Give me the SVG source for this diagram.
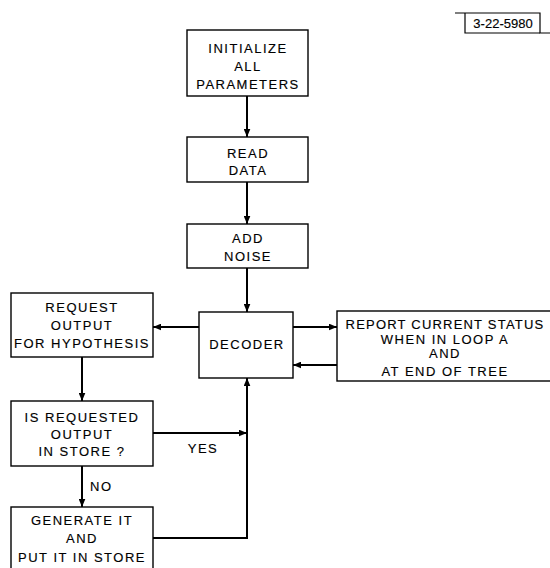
<svg xmlns="http://www.w3.org/2000/svg" width="550" height="568" viewBox="0 0 550 568">
<defs>
<marker id="ah" viewBox="0 0 12 10" refX="12" refY="5" markerWidth="8" markerHeight="7" markerUnits="userSpaceOnUse" orient="auto">
<path d="M0,0 L12,5 L0,10 z" fill="#000"/>
</marker>
<style>
.box{fill:#fff;stroke:#000;stroke-width:1.4}
.t{font-family:"Liberation Sans",Arial,sans-serif;font-size:13px;fill:#000;stroke:#000;stroke-width:0.15;text-anchor:middle;letter-spacing:1.5px}
.c{fill:none;stroke:#000;stroke-width:2}
.ca{fill:none;stroke:#000;stroke-width:2;marker-end:url(#ah)}
</style>
</defs>
<rect width="550" height="568" fill="#fff"/>
<g id="label">
<path d="M455,13 H540 V33 H550" fill="none" stroke="#000" stroke-width="1.2"/>
<path d="M465,13 V33 H540" fill="none" stroke="#000" stroke-width="1.2"/>
<text x="503" y="28" class="t" style="letter-spacing:0px">3-22-5980</text>
</g>
<g id="init">
<rect class="box" x="187" y="30" width="121" height="66"/>
<text class="t" x="248" y="53">INITIALIZE</text>
<text class="t" x="248" y="71">ALL</text>
<text class="t" x="248" y="89">PARAMETERS</text>
</g>
<g id="read">
<rect class="box" x="187" y="137" width="121" height="45"/>
<text class="t" x="248" y="158">READ</text>
<text class="t" x="248" y="175">DATA</text>
</g>
<g id="noise">
<rect class="box" x="187" y="224" width="121" height="44"/>
<text class="t" x="248" y="243">ADD</text>
<text class="t" x="248" y="261">NOISE</text>
</g>
<g id="decoder">
<rect class="box" x="199" y="312" width="94" height="66"/>
<text class="t" x="247" y="349">DECODER</text>
</g>
<g id="request">
<rect class="box" x="11" y="293" width="142" height="64"/>
<text class="t" x="82" y="312">REQUEST</text>
<text class="t" x="82" y="330">OUTPUT</text>
<text class="t" x="82" y="348">FOR HYPOTHESIS</text>
</g>
<g id="report">
<rect class="box" x="337" y="311" width="220" height="70"/>
<text class="t" x="445" y="329" style="letter-spacing:1.2px">REPORT CURRENT STATUS</text>
<text class="t" x="445" y="344">WHEN IN LOOP A</text>
<text class="t" x="445" y="358">AND</text>
<text class="t" x="445" y="376">AT END OF TREE</text>
</g>
<g id="instore">
<rect class="box" x="11" y="401" width="142" height="65"/>
<text class="t" x="82" y="422">IS REQUESTED</text>
<text class="t" x="82" y="439">OUTPUT</text>
<text class="t" x="82" y="456">IN STORE ?</text>
</g>
<g id="generate">
<rect class="box" x="11" y="507" width="142" height="65"/>
<text class="t" x="82" y="525">GENERATE IT</text>
<text class="t" x="82" y="543">AND</text>
<text class="t" x="82" y="562">PUT IT IN STORE</text>
</g>
<g id="connectors">
<line class="ca" x1="247" y1="96" x2="247" y2="137"/>
<line class="ca" x1="247" y1="182" x2="247" y2="224"/>
<line class="ca" x1="247" y1="268" x2="247" y2="312"/>
<line class="ca" x1="199" y1="327" x2="153" y2="327"/>
<line class="ca" x1="293" y1="327" x2="337" y2="327"/>
<line class="ca" x1="337" y1="365" x2="293" y2="365"/>
<line class="ca" x1="82" y1="357" x2="82" y2="401"/>
<line class="ca" x1="82" y1="466" x2="82" y2="507"/>
<line class="ca" x1="153" y1="433" x2="247" y2="433"/>
<polyline class="ca" points="153,538 247,538 247,378"/>
<text class="t" x="203" y="453">YES</text>
<text class="t" x="90" y="491" style="text-anchor:start">NO</text>
</g>
</svg>
